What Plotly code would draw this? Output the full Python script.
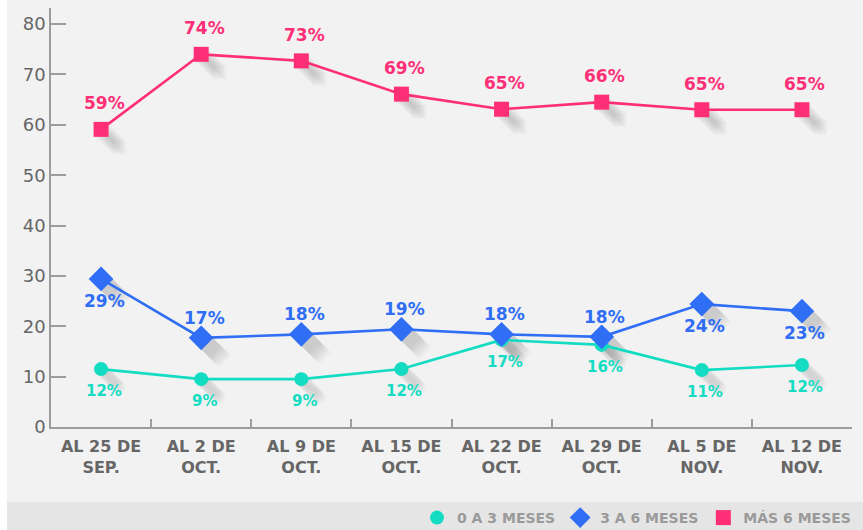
import plotly.graph_objects as go

categories = ["AL 25 DE<br>SEP.", "AL 2 DE<br>OCT.", "AL 9 DE<br>OCT.", "AL 15 DE<br>OCT.",
              "AL 22 DE<br>OCT.", "AL 29 DE<br>OCT.", "AL 5 DE<br>NOV.", "AL 12 DE<br>NOV."]

teal_vals = [11.5, 9.5, 9.5, 11.5, 17.3, 16.3, 11.3, 12.3]
teal_labels = ["12%", "9%", "9%", "12%", "17%", "16%", "11%", "12%"]

blue_vals = [29.4, 17.7, 18.4, 19.4, 18.4, 17.9, 24.4, 23.0]
blue_labels = ["29%", "17%", "18%", "19%", "18%", "18%", "24%", "23%"]

pink_vals = [59.1, 74.0, 72.7, 66.1, 63.1, 64.5, 63.0, 63.0]
pink_labels = ["59%", "74%", "73%", "69%", "65%", "66%", "65%", "65%"]

y_ticks = [0, 10, 20, 30, 40, 50, 60, 70, 80]

FONT = "DejaVu Sans"
TEAL = "#14dcc2"
BLUE = "#2f6ef5"
PINK = "#fe2f77"

XR = [-0.5, 7.5]
YR = [0, 83.2]
W_PX, H_PX = 801, 419
px_x = (XR[1] - XR[0]) / W_PX
px_y = (YR[1] - YR[0]) / H_PX

shadow_offsets = [2, 4, 6, 8, 10, 12, 14, 16, 18]

# (name, values, labels, color, symbol, size, label size, label shifts)
series = [
    ("0 A 3 MESES", teal_vals, teal_labels, TEAL, "circle", 14, 15,
     [-22] * 8),
    ("3 A 6 MESES", blue_vals, blue_labels, BLUE, "diamond", 19, 17,
     [-22, 20, 20, 20, 20, 20, -22, -22]),
    ("MÁS 6 MESES", pink_vals, pink_labels, PINK, "square", 15, 17,
     [26] * 8),
]

fig = go.Figure()
layout = {}

# soft drop-shadow layers on hidden, slightly shifted axes
for i, k in enumerate(shadow_offsets):
    suf = "" if i == 0 else str(i + 1)
    xa = dict(type="category", range=[XR[0] - k * px_x, XR[1] - k * px_x], visible=False)
    ya = dict(range=[YR[0] + k * px_y, YR[1] + k * px_y], visible=False)
    if i > 0:
        xa["overlaying"] = "x"
        ya["overlaying"] = "y"
    layout["xaxis" + suf] = xa
    layout["yaxis" + suf] = ya
    for name, vals, labels, color, sym, size, lsz, shifts in series:
        fig.add_trace(go.Scatter(
            x=categories, y=vals, mode="markers",
            marker=dict(symbol=sym, size=size - 1, color="rgba(0,0,0,0.026)", line=dict(width=0)),
            xaxis="x" + suf, yaxis="y" + suf, showlegend=False, hoverinfo="skip"))

main = str(len(shadow_offsets) + 1)
layout["xaxis" + main] = dict(
    type="category", range=XR, overlaying="x", automargin=False,
    showline=True, linecolor="#9c9c9c", linewidth=1.5,
    ticks="inside", ticklen=8, tickcolor="#9c9c9c", tickwidth=1.5, tickson="boundaries",
    showgrid=False, zeroline=False, ticklabelstandoff=4,
    tickfont=dict(family=FONT, size=16, color="#666666", weight="bold"))
layout["yaxis" + main] = dict(
    range=YR, overlaying="y", tickvals=y_ticks, automargin=False,
    showline=True, linecolor="#9c9c9c", linewidth=1.5,
    ticks="inside", ticklen=15, tickcolor="#9c9c9c", tickwidth=1.5,
    showgrid=False, zeroline=False,
    tickfont=dict(family=FONT, size=18, color="#666666"))

annotations = []
for name, vals, labels, color, sym, size, lsz, shifts in series:
    fig.add_trace(go.Scatter(
        x=categories, y=vals, mode="lines", showlegend=False,
        line=dict(color=color, width=2.6),
        xaxis="x" + main, yaxis="y" + main, hoverinfo="skip"))
for name, vals, labels, color, sym, size, lsz, shifts in series:
    fig.add_trace(go.Scatter(
        x=categories, y=vals, mode="markers", name=name,
        marker=dict(symbol=sym, size=size, color=color, line=dict(width=0)),
        xaxis="x" + main, yaxis="y" + main))
    for i, (v, t) in enumerate(zip(vals, labels)):
        annotations.append(dict(
            x=i, y=v, xref="x" + main, yref="y" + main, text=t, showarrow=False,
            yshift=shifts[i], xshift=3,
            font=dict(family=FONT, size=lsz, color=color, weight="bold")))

shapes = [
    dict(type="rect", xref="paper", yref="paper", x0=(7 - 51) / W_PX, x1=1.05,
         y0=(427 - 502) / H_PX, y1=1.05, fillcolor="#f2f2f2", line=dict(width=0), layer="below"),
    dict(type="rect", xref="paper", yref="paper", x0=(7 - 51) / W_PX, x1=1.05,
         y0=-0.3, y1=(427 - 502) / H_PX, fillcolor="#e5e5e5", line=dict(width=0), layer="below"),
]

fig.update_layout(
    width=863, height=530,
    margin=dict(l=51, r=11, t=8, b=103, autoexpand=False),
    paper_bgcolor="white", plot_bgcolor="rgba(0,0,0,0)",
    showlegend=True,
    legend=dict(orientation="h", x=1.005, xanchor="right", y=(427 - 518) / H_PX, yanchor="middle",
                bgcolor="rgba(0,0,0,0)", itemwidth=30,
                font=dict(family=FONT, size=14, color="#9a9a9a", weight="bold")),
    annotations=annotations, shapes=shapes,
    **layout)

fig.write_html("out.html", config={"displayModeBar": False},
               post_script="document.body.style.margin='0';")
